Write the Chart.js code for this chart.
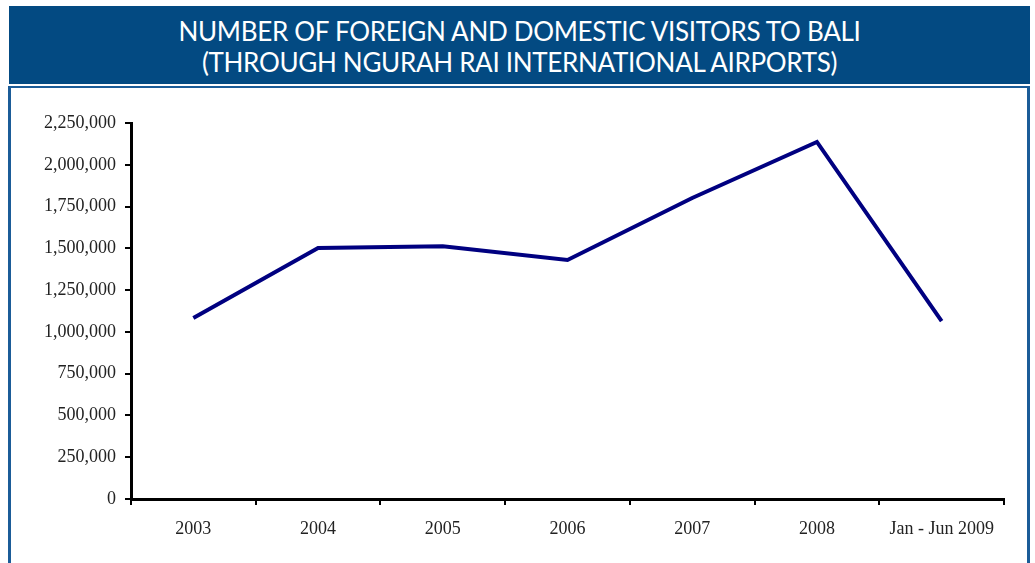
<!DOCTYPE html>
<html>
<head>
<meta charset="utf-8">
<script src="https://cdn.jsdelivr.net/npm/chart.js"></script>
<style>
  body { margin: 0; background: #fff; width: 1035px; height: 563px; overflow: hidden; position: relative; }
  #titlebar {
    position: absolute; left: 9px; top: 6px; width: 1021px; height: 78px;
    background: #034a82; color: #fff; text-align: center;
    font-family: Lato, "Open Sans", sans-serif; font-size: 26px; line-height: 31px;
    padding-top: 10px; box-sizing: border-box; letter-spacing: -0.3px;
  }
  #frame {
    position: absolute; left: 8px; top: 86px; width: 1022px; height: 490px;
    border: 3px solid #1b5c98; border-top-width: 2px; box-sizing: border-box;
  }
  #chart1 { position: absolute; left: 0; top: 0; }
</style>
</head>
<body>
<div id="titlebar">NUMBER OF FOREIGN AND DOMESTIC VISITORS TO BALI<br>(THROUGH NGURAH RAI INTERNATIONAL AIRPORTS)</div>
<div id="frame"></div>
<canvas id="chart1" width="1035" height="563"></canvas>
<script>
// data
var periods = ["2003", "2004", "2005", "2006", "2007", "2008", "Jan - Jun 2009"];
var visitors = [1083000, 1502000, 1512000, 1430000, 1801000, 2137000, 1065000];
var yTicks = [0, 250000, 500000, 750000, 1000000, 1250000, 1500000, 1750000, 2000000, 2250000];

var tickFont = { family: "'Liberation Serif', serif", size: 18 };

new Chart(document.getElementById("chart1"), {
  type: "line",
  data: {
    labels: periods,
    datasets: [{
      data: visitors,
      borderColor: "#000080",
      borderWidth: 4,
      pointRadius: 0,
      fill: false,
      tension: 0
    }]
  },
  options: {
    responsive: false,
    animation: false,
    layout: { padding: { left: 0, right: 31, top: 123, bottom: 0 } },
    plugins: { legend: { display: false }, tooltip: { enabled: false } },
    scales: {
      x: {
        offset: true,
        grid: { offset: true, drawOnChartArea: false, color: "#000", lineWidth: 2, tickLength: 6 },
        border: { color: "#000", width: 3 },
        ticks: { color: "#222", font: tickFont, padding: 13, maxRotation: 0 },
        afterFit: function (s) { s.height = 64; }
      },
      y: {
        min: 0,
        max: yTicks[yTicks.length - 1],
        afterBuildTicks: function (s) { s.ticks = yTicks.map(function (v) { return { value: v }; }); },
        grid: { drawOnChartArea: false, color: "#000", lineWidth: 2, tickLength: 6 },
        border: { color: "#000", width: 3 },
        ticks: {
          color: "#222", font: tickFont, padding: 9,
          callback: function (v) { return v.toLocaleString("en-US"); }
        },
        afterFit: function (s) { s.width = 131; }
      }
    }
  }
});
</script>
</body>
</html>
